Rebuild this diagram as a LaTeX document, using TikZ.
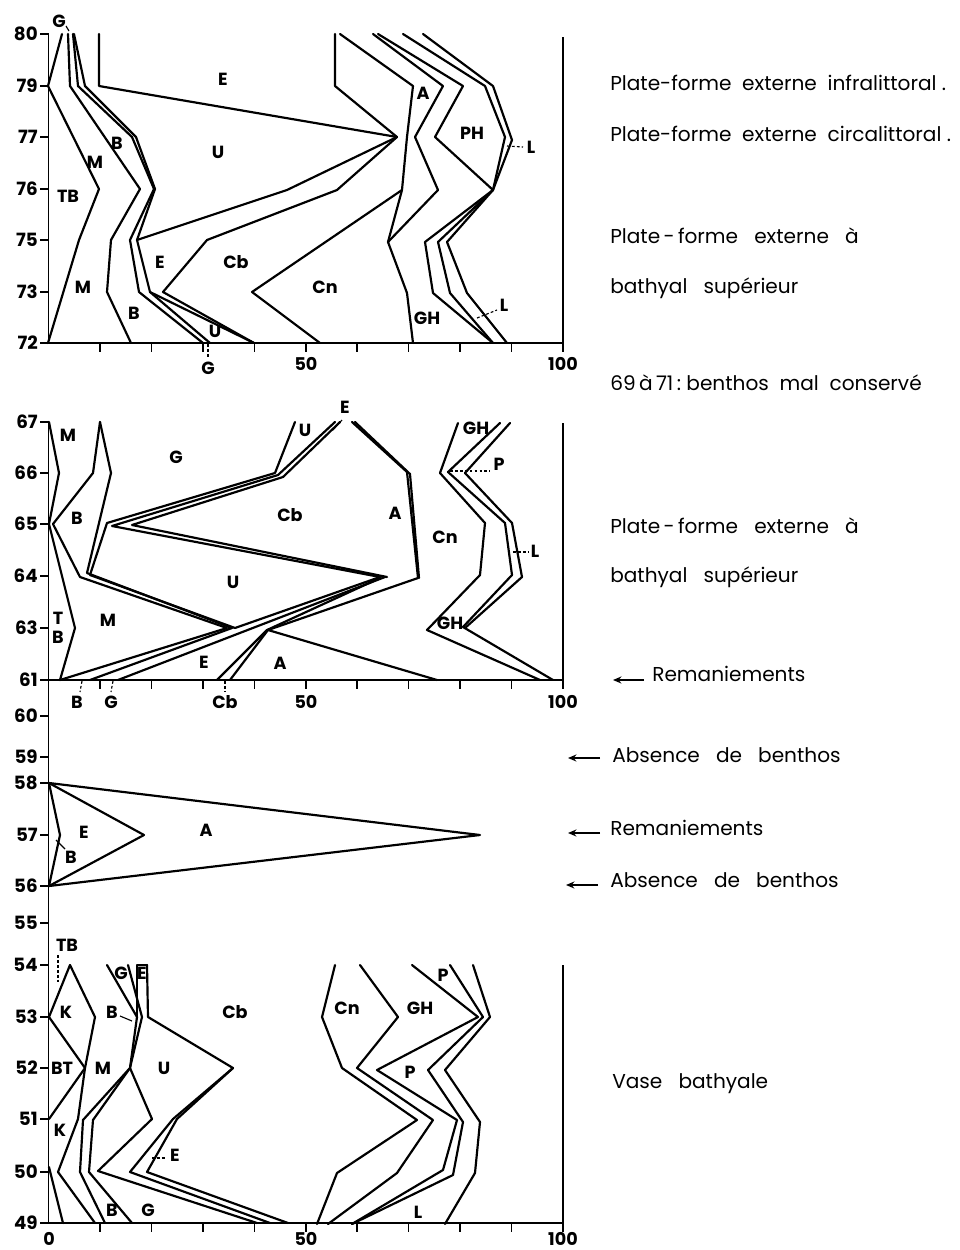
\documentclass[tikz,border=0pt]{standalone}
\usepackage{fontspec}
\setmainfont{Poppins}
\usetikzlibrary{arrows.meta}
\begin{document}
\begin{tikzpicture}[x=0.25mm,y=-0.25mm,
  dl/.style={line width=1.55pt, line join=round, line cap=round},
  ax/.style={line width=1.1pt},
  lab/.style={font=\fontsize{12.5}{12.5}\selectfont\bfseries, inner sep=0pt},
  num/.style={font=\fontsize{13}{13}\selectfont\bfseries, inner sep=0pt, anchor=east},
  txt/.style={font=\fontsize{14.3}{15}\selectfont, inner sep=0pt, anchor=west},
  mk/.style={line width=0.8pt, dash pattern=on 2pt off 1.5pt},
  arr/.style={line width=1.6pt, -{Stealth[length=6pt,width=5pt]}}]
\useasboundingbox (0,0) rectangle (960,1250);
\fill[white] (0,0) rectangle (960,1250);

% ================= TOP PANEL (80-72) =================
\draw[ax] (48.5,34) -- (48.5,343) -- (563,343);
\draw[ax] (563,37) -- (563,343);
\foreach \v/\y in {80/34,79/86,77/137,76/189,75/240,73/292,72/343}{
  \draw[ax] (40,\y) -- (48.5,\y);
  \node[num] (ta\v) at (38,\y) {\v};}
\foreach \k in {1,...,10}{\draw[ax] ({48.5+51.45*\k},343) -- ++(0,9);}
\node[lab] (t50) at (306,364) {50};
\node[lab] (t100) at (563,364) {100};

\draw[dl] (62,34)--(48,86)--(99,189)--(79,240)--(48,343);
\draw[dl] (68,34)--(70,86)--(140,189)--(111,240)--(107,292)--(131,343);
\draw[dl] (73,34)--(78,86)--(132,137)--(154,189)--(130,240)--(139,292)--(203,343);
\draw[dl] (74,34)--(85,86)--(136,137)--(155,189)--(137,240)--(150,292)--(210,343);
\draw[dl] (150,292)--(254,343);
\draw[dl] (99,34)--(99,86)--(397,137);
\draw[dl] (335,34)--(335,86)--(397,137);
\draw[dl] (397,137)--(287,190)--(137,240);
\draw[dl] (397,137)--(337,190)--(207,240)--(163,292)--(254,343);
\draw[dl] (402,190)--(252,292)--(320,343);
\draw[dl] (340,34)--(413,86)--(407,137)--(402,190)--(388,242)--(407,293)--(413,343);
\draw[dl] (373,34)--(443,86)--(415,137)--(438,190)--(388,242);
\draw[dl] (378,34)--(463,86)--(435,137)--(493,190);
\draw[dl] (403,34)--(485,86)--(505,137)--(493,190);
\draw[dl] (423,34)--(493,86)--(512,140)--(493,190);
\draw[dl] (493,190)--(425,242)--(433,293)--(493,343);
\draw[dl] (493,190)--(438,242)--(450,293)--(493,343);
\draw[dl] (493,190)--(447,242)--(467,293)--(507,343);

\node[lab] (tG1) at (59,21) {G};
\draw[line width=0.8pt] (66,26) -- (69,31);
\node[lab] (tE1) at (223,79) {E};
\node[lab] (tU1) at (218,152) {U};
\node[lab] (tM1) at (95,162) {M};
\node[lab] (tB1) at (117,143) {B};
\node[lab] (tTB) at (68,196) {TB};
\node[lab] (tE2) at (160,262) {E};
\node[lab] (tCb) at (236,262) {Cb};
\node[lab] (tM2) at (83,287) {M};
\node[lab] (tB2) at (134,313) {B};
\node[lab] (tU2) at (215,331) {U};
\node[lab] (tG2) at (208,368) {G};
\draw[mk] (208,344) -- (208,357);
\node[lab] (tCn) at (325,287) {Cn};
\node[lab] (tA) at (423,93) {A};
\node[lab] (tPH) at (472,133) {PH};
\node[lab] (tL1) at (531,147) {L};
\draw[mk] (507,146) -- (523,147);
\node[lab] (tGH) at (427,318) {GH};
\node[lab] (tL2) at (504,305) {L};
\draw[mk] (477,318) -- (497,310);

% ================= MIDDLE PANEL (67-61) and 60-55 =================
\draw[ax] (48.5,422) -- (48.5,1223);
\draw[ax] (48.5,680) -- (563,680);
\draw[ax] (563,423) -- (563,680);
\foreach \v/\y in {67/422,66/473,65/524,64/576,63/628,61/680,60/716,59/757,58/783,57/835,56/886,55/923}{
  \draw[ax] (40,\y) -- (48.5,\y);
  \node[num] (ma\v) at (38,\y) {\v};}
\foreach \k in {1,...,10}{\draw[ax] ({48.5+51.45*\k},680) -- ++(0,9);}
\node[lab] (m50) at (306,702) {50};
\node[lab] (m100) at (563,702) {100};
\node[lab] (mBx) at (77,702) {B};
\draw[mk] (82,681) -- (80,692);
\node[lab] (mGx) at (111,702) {G};
\draw[mk] (113,681) -- (111,692);
\node[lab] (mCbx) at (225,702) {Cb};
\draw[mk] (225,681) -- (225,692);

\draw[dl] (49,422)--(59,473)--(49,524)--(75,628)--(60,680);
\draw[dl] (100,422)--(93,473)--(53,524)--(80,577)--(227,628)--(60,680);
\draw[dl] (100,422)--(111,473)--(87,573)--(232,628)--(90,680);
\draw[dl] (295,422)--(275,473)--(107,523)--(90,575)--(235,628);
\draw[dl] (335,422)--(278,475)--(112,526)--(380,577);
\draw[dl] (340,422)--(283,477)--(132,525)--(387,577);
\draw[dl] (235,628)--(380,577);
\draw[dl] (118,680)--(385,577);
\draw[dl] (217,680)--(267,630)--(380,578);
\draw[dl] (230,680)--(268,630)--(437,680);
\draw[dl] (268,630)--(418,578)--(407,472)--(352,422);
\draw[dl] (419,578)--(410,474)--(355,422);
\draw[dl] (458,423)--(440,473)--(485,523)--(480,575)--(427,630)--(540,680);
\draw[dl] (500,423)--(448,472)--(505,523)--(512,575)--(463,627)--(553,680);
\draw[dl] (510,423)--(465,473)--(512,523)--(522,577)--(465,628);

\node[lab] (mM1) at (68,435) {M};
\node[lab] (mG) at (176,457) {G};
\node[lab] (mB) at (77,518) {B};
\node[lab] (mCb) at (290,515) {Cb};
\node[lab] (mU) at (233,582) {U};
\node[lab] (mT) at (58,618) {T};
\node[lab] (mB2) at (58,637) {B};
\node[lab] (mM2) at (108,620) {M};
\node[lab] (mE) at (204,662) {E};
\node[lab] (mA) at (280,663) {A};
\node[lab] (mA2) at (395,513) {A};
\node[lab] (mCn) at (445,537) {Cn};
\node[lab] (mGH) at (476,428) {GH};
\node[lab] (mP) at (499,464) {P};
\draw[mk] (450,471) -- (490,471);
\node[lab] (mL) at (535,551) {L};
\draw[mk] (513,552) -- (528,552);
\node[lab] (mGH2) at (450,623) {GH};
\node[lab] (mU2) at (305,430) {U};
\node[lab] (mE2) at (345,407) {E};
\draw[line width=0.8pt] (333,430) -- (342,420);

% 58-56
\draw[dl] (49,783)--(480,835)--(49,886);
\draw[dl] (49,783)--(144,835)--(49,886);
\draw[dl] (49,783)--(60,835)--(49,886);
\node[lab] (sE) at (84,832) {E};
\node[lab] (sA) at (206,830) {A};
\node[lab] (sB) at (71,857) {B};
\draw[line width=0.8pt] (56,840) -- (65,849);

% ================= BOTTOM PANEL (54-49) =================
\draw[ax] (48.5,1223) -- (563,1223);
\draw[ax] (563,965) -- (563,1223);
\foreach \v/\y in {54/965,53/1017,52/1068,51/1119,50/1172,49/1223}{
  \draw[ax] (40,\y) -- (48.5,\y);
  \node[num] (ba\v) at (38,\y) {\v};}
\foreach \k in {1,...,10}{\draw[ax] ({48.5+51.45*\k},1223) -- ++(0,9);}
\node[lab] (b0) at (49,1239) {0};
\node[lab] (b50) at (306,1239) {50};
\node[lab] (b100) at (563,1239) {100};

\draw[dl] (49,1167)--(63,1223);
\draw[dl] (70,965)--(49,1017)--(85,1068)--(49,1119);
\draw[dl] (70,965)--(95,1017)--(85,1068)--(78,1119)--(58,1172)--(95,1223);
\draw[dl] (107,965)--(137,1017)--(130,1068)--(83,1120)--(80,1172)--(105,1223);
\draw[dl] (128,965)--(142,1017)--(130,1068)--(93,1120)--(89,1172)--(132,1223);
\draw[dl] (130,1068)--(152,1119)--(98,1171)--(257,1223);
\draw[dl] (147,965)--(148,1017)--(233,1068)--(173,1119)--(130,1172)--(270,1223);
\draw[dl] (233,1068)--(177,1119)--(147,1172)--(288,1223);
\draw[dl] (137,1017)--(137,965)--(147,965);

\draw[dl] (335,965)--(322,1017)--(342,1068)--(417,1120)--(337,1173)--(317,1224);
\draw[dl] (360,965)--(398,1017)--(357,1068)--(433,1120)--(397,1173)--(328,1224);
\draw[dl] (412,965)--(478,1017)--(377,1070)--(457,1120)--(443,1170)--(352,1224);
\draw[dl] (450,965)--(483,1017)--(428,1070)--(463,1122)--(453,1175)--(352,1224);
\draw[dl] (473,965)--(490,1017)--(445,1070)--(480,1122)--(475,1173)--(445,1224);

\node[lab] (bTB) at (67,945) {TB};
\draw[mk] (58,955) -- (58,982);
\node[lab] (bK1) at (66,1012) {K};
\node[lab] (bBT) at (62,1068) {BT};
\node[lab] (bM) at (103,1068) {M};
\node[lab] (bK2) at (60,1130) {K};
\node[lab] (bG1) at (121,973) {G};
\node[lab] (bE1) at (142,973) {E};
\node[lab] (bB1) at (112,1012) {B};
\draw[line width=0.8pt] (120,1016) -- (132,1021);
\node[lab] (bU) at (164,1068) {U};
\node[lab] (bCb) at (235,1012) {Cb};
\node[lab] (bE2) at (175,1155) {E};
\draw[mk] (152,1158) -- (165,1158);
\node[lab] (bB2) at (112,1210) {B};
\node[lab] (bG2) at (148,1210) {G};
\node[lab] (bCn) at (347,1008) {Cn};
\node[lab] (bGH) at (420,1008) {GH};
\node[lab] (bP1) at (443,975) {P};
\node[lab] (bP2) at (410,1072) {P};
\node[lab] (bL) at (418,1212) {L};

% ================= RIGHT TEXTS =================
\node[txt] (x1) at (610,83) {Plate-forme\ \ externe\ \ infralittoral\ .};
\node[txt] (x2) at (610,134) {Plate-forme\ \ externe\ \ circalittoral\ .};
\node[txt] (x3) at (610,236) {Plate\,-\,forme\ \ \ externe\ \ \ à};
\node[txt] (x4) at (610,288) {bathyal\ \ \ supérieur};
\node[txt] (x5) at (610,383) {69\,à\,71\,:\ benthos\ \ mal\ \ conservé};
\node[txt] (x6) at (610,526) {Plate\,-\,forme\ \ \ externe\ \ \ à};
\node[txt] (x7) at (610,577) {bathyal\ \ \ supérieur};
\node[txt] (x8) at (652,674) {Remaniements};
\coordinate (a8s) at (644,680); \coordinate (a8e) at (613,680);
\draw[arr] (a8s) -- (a8e);
\node[txt] (x9) at (612,755) {Absence\ \ \ de\ \ \ benthos};
\coordinate (a9s) at (600,758); \coordinate (a9e) at (568,758);
\draw[arr] (a9s) -- (a9e);
\node[txt] (x10) at (610,828) {Remaniements};
\coordinate (a10s) at (600,833); \coordinate (a10e) at (568,833);
\draw[arr] (a10s) -- (a10e);
\node[txt] (x11) at (610,880) {Absence\ \ \ de\ \ \ benthos};
\coordinate (a11s) at (598,885); \coordinate (a11e) at (566,885);
\draw[arr] (a11s) -- (a11e);
\node[txt] (x12) at (612,1084) {Vase\ \ \ bathyale};
\end{tikzpicture}
\end{document}
